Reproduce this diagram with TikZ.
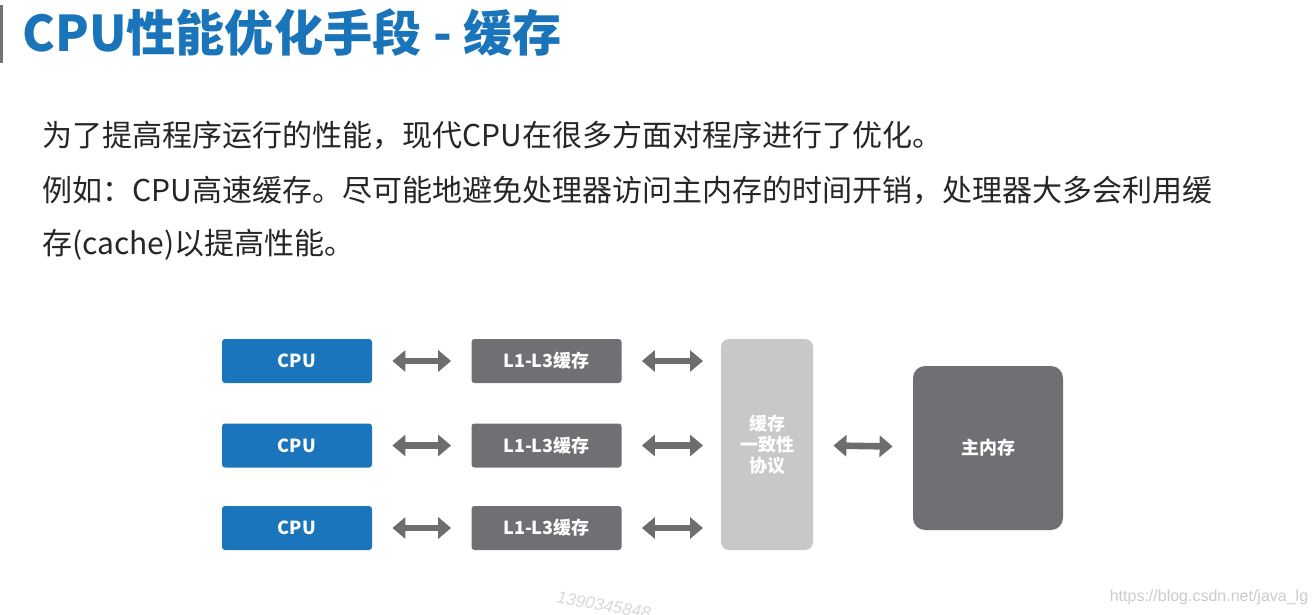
\documentclass[tikz,border=0pt]{standalone}
\usepackage{fontspec}
\setmainfont{Noto Sans CJK SC}
\newfontfamily\latinsans{Liberation Sans}
\usetikzlibrary{arrows.meta,positioning}
\definecolor{titleblue}{HTML}{1A74BA}
\definecolor{cpublue}{HTML}{1B75BC}
\definecolor{darkbox}{HTML}{707074}
\definecolor{lightbox}{HTML}{C8C8C8}
\definecolor{arrowgrey}{HTML}{6D6D70}
\begin{document}
\begin{tikzpicture}[x=0.5pt,y=-0.5pt,
  cpubox/.style={fill=cpublue,rounded corners=1.5pt,minimum width=75pt,minimum height=22pt,text=white,font=\fontsize{9}{11}\selectfont\bfseries},
  cachebox/.style={cpubox,fill=darkbox},
  bothway/.style={{Triangle[width=10.5pt,length=6.5pt]}-{Triangle[width=10.5pt,length=6.5pt]},line width=3.3pt,arrowgrey,shorten <=10pt,shorten >=10pt},
  bodyline/.style={anchor=west,inner sep=0pt,text=black!85,font=\fontsize{15}{18}\selectfont}]
\useasboundingbox[fill=white] (0,0) rectangle (1314,615);
\fill[black!55] (0,5) rectangle (3,63);
\node[anchor=west,inner sep=0pt,text=titleblue,font=\fontsize{24.6}{30}\selectfont\bfseries] (title) at (22,33) {CPU性能优化手段 - 缓存};
\node[bodyline] (lineA) at (42,135) {为了提高程序运行的性能，现代CPU在很多方面对程序进行了优化。};
\node[bodyline] (lineB) at (42,190) {例如：CPU高速缓存。尽可能地避免处理器访问主内存的时间开销，处理器大多会利用缓};
\node[bodyline] (lineC) at (42,245) {存(cache)以提高性能。};
% coherence box and main memory
\node[fill=lightbox,rounded corners=4pt,minimum width=46pt,minimum height=105.5pt,text=white,align=center,font=\fontsize{9}{10.5}\selectfont\bfseries] (coherence) at (767,444.5) {缓存\\一致性\\协议};
\node[fill=darkbox,rounded corners=6pt,minimum width=75pt,minimum height=82pt,text=white,font=\fontsize{9}{11}\selectfont\bfseries] (memory) at (988,448) {主内存};
\foreach \row/\y in {A/361,B/445.5,C/528}{
  \node[cpubox] (cpu\row) at (297,\y) {CPU};
  \node[cachebox] (cache\row) at (546.5,\y) {L1-L3缓存};
  \coordinate (link\row) at (721,\y);
  \draw[bothway] (cpu\row) -- (cache\row);
  \draw[bothway,shorten >=9pt] (cache\row) -- (link\row);
}
\draw[bothway] (coherence) -- (memory);
% watermarks
\node[rotate=-10,anchor=west,inner sep=0pt,text=black!15,font=\latinsans\itshape\fontsize{8.5}{10}\selectfont] (stamp) at (557,597) {1390345848};
\node[inner sep=0pt,text=black!20,font=\latinsans\fontsize{8}{10}\selectfont] (url) at (1209,597) {https://blog.csdn.net/java\_lg};
\end{tikzpicture}
\end{document}
